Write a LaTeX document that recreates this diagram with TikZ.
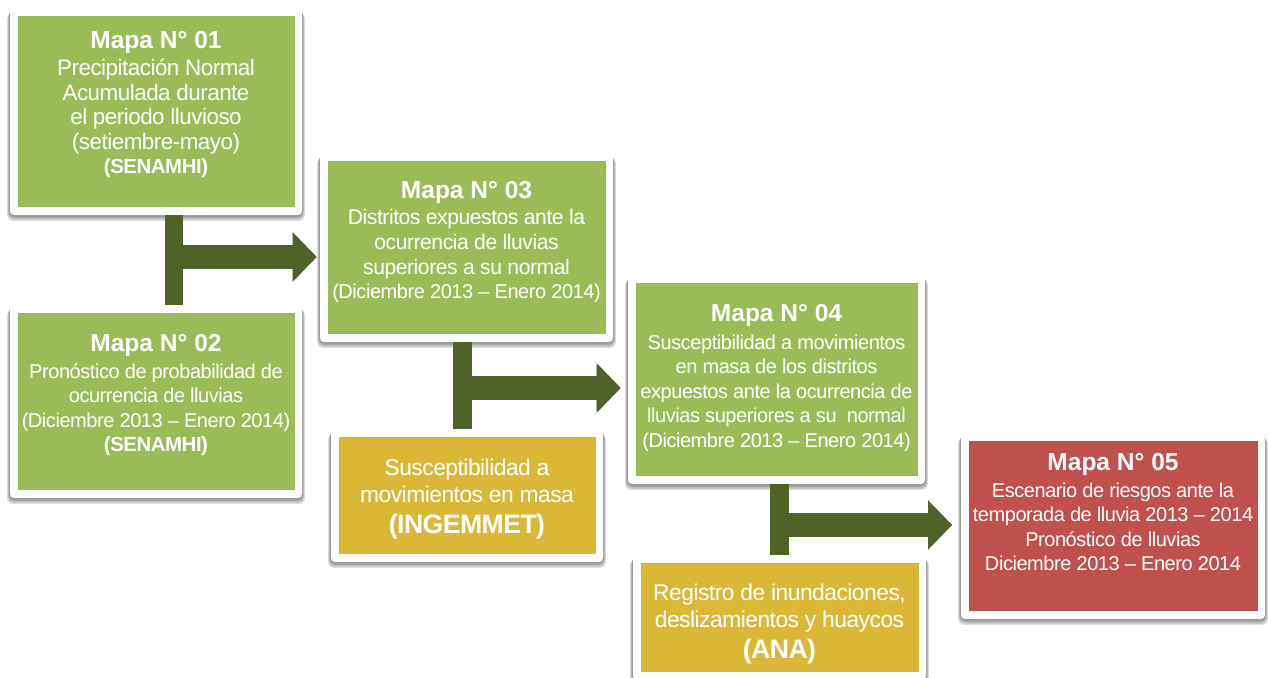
\documentclass[tikz,border=0pt]{standalone}
\usepackage{fontspec}
\setmainfont{Liberation Sans}
\usetikzlibrary{fit,arrows.meta}
\definecolor{cgreen}{HTML}{9BBB59}
\definecolor{cyellow}{HTML}{DBB738}
\definecolor{cred}{HTML}{C0504D}
\definecolor{cdark}{HTML}{4F6228}
\newcommand{\ttl}[1]{{\fontsize{18.4pt}{18pt}\selectfont\bfseries #1}}
\newcommand{\lab}[2][15]{{\fontsize{#1pt}{18.4pt}\selectfont\addfontfeature{LetterSpace=-2.2}#2}}
\newcommand{\labb}[2][15.3]{{\fontsize{#1pt}{18.4pt}\selectfont\bfseries\addfontfeature{LetterSpace=-2.2}#2}}
\tikzset{
  x=0.75pt,y=-0.75pt,
  cardbox/.style={inner sep=0pt,fill=white,rounded corners=3pt},
  cardfill/.style={inner sep=0pt,fill=#1},
  cardtext/.style={text=white,align=center,inner sep=0pt,font=\fontsize{14.3pt}{18.4pt}\selectfont},
  bar/.style={draw=cdark,line width=14pt},
  flow/.style={draw=cdark,line width=18pt,-{Triangle[length=18pt,width=36pt,fill=cdark]}},
  flowshade/.style={draw=black,opacity=.18,line width=18pt,-{Triangle[length=18pt,width=36pt,fill=black]}},
  shade1/.style={fill=black,opacity=.13,rounded corners=4pt},
}
\newcommand{\card}[8]{%
  \foreach \s in {1,2,3,4}{\path[shade1] (#2-\s*.7,#3+\s*1.2) rectangle (#4+\s*.7,#5+\s*1.5);}
  \node[cardbox,fit={(#2,#3)(#4,#5)}] (#1) {};
  \node[cardfill=#6,fit={(#2+8,#3+8)(#4-7.5,#5-8)}] (#1in) {};
  \node[cardtext] (#1t) at ({(#2+#4)/2},#7) {#8};
}
\begin{document}
\begin{tikzpicture}
\useasboundingbox (0,0) rectangle (1268,678);
\fill[white] (0,0) rectangle (1268,678);
\card{ma}{10}{8}{302}{215}{cgreen}{104.5}{\ttl{Mapa N° 01}\\[2pt]\lab[16.8]{Precipitación Normal}\\\lab[16.8]{Acumulada durante}\\\lab[16.8]{el periodo lluvioso}\\\lab[16.8]{(setiembre-mayo)}\\\labb{(SENAMHI)}}
\card{mb}{10}{305}{302}{498}{cgreen}{395}{\ttl{Mapa N° 02}\\[2pt]\lab{Pronóstico de probabilidad de}\\\lab{ocurrencia de lluvias}\\\lab{(Diciembre 2013 – Enero 2014)}\\\labb{(SENAMHI)}}
\card{mc}{320}{153}{613}{342}{cgreen}{242}{\ttl{Mapa N° 03}\\[1.5pt]\lab[15.85]{Distritos expuestos ante la}\\\lab[15.85]{ocurrencia de lluvias}\\\lab[15.85]{superiores a su normal}\\\lab{(Diciembre 2013 – Enero 2014)}}
\card{sa}{331}{429}{603}{562}{cyellow}{499}{\lab[17.1]{Susceptibilidad a}\\[2pt]\lab[17.1]{movimientos en masa}\\[4.5pt]\labb[20]{(INGEMMET)}}
\card{md}{628}{275}{925}{484}{cgreen}{378}{\ttl{Mapa N° 04}\\[2pt]\lab{Susceptibilidad a movimientos}\\\lab{en masa de los distritos}\\\lab{expuestos ante la ocurrencia de}\\\lab{lluvias superiores a su\ \ normal}\\\lab{(Diciembre 2013 – Enero 2014)}}
\card{re}{633}{555}{926}{680}{cyellow}{624}{\lab[17.1]{Registro de inundaciones,}\\[2pt]\lab[17.1]{deslizamientos y huaycos}\\[4.5pt]\labb[20]{(ANA)}}
\card{me}{961}{433}{1265}{619}{cred}{512}{\ttl{Mapa N° 05}\\[2pt]\lab{Escenario de riesgos ante la}\\\lab{temporada de lluvia 2013 – 2014}\\\lab{Pronóstico de lluvias}\\\lab{Diciembre 2013 – Enero 2014}}
\coordinate (j1) at (174,257);
\coordinate (j2) at (462.5,388);
\coordinate (j3) at (779.5,525);
\begin{scope}[yshift=-1.2pt]
\draw[flowshade,shorten >=2.25pt] (j1) -- (j1 -| mc.west);
\draw[flowshade,shorten >=5.25pt] (j2) -- (j2 -| md.west);
\draw[flowshade,shorten >=6.5pt] (j3) -- (j3 -| me.west);
\end{scope}
\draw[flow,shorten >=2.25pt] (j1) -- (j1 -| mc.west);
\draw[bar] (ma.south -| j1) -- (mb.north -| j1);
\draw[flow,shorten >=5.25pt] (j2) -- (j2 -| md.west);
\draw[bar] (mc.south -| j2) -- (sa.north -| j2);
\draw[flow,shorten >=6.5pt] (j3) -- (j3 -| me.west);
\draw[bar] (md.south -| j3) -- (re.north -| j3);
\end{tikzpicture}
\end{document}
